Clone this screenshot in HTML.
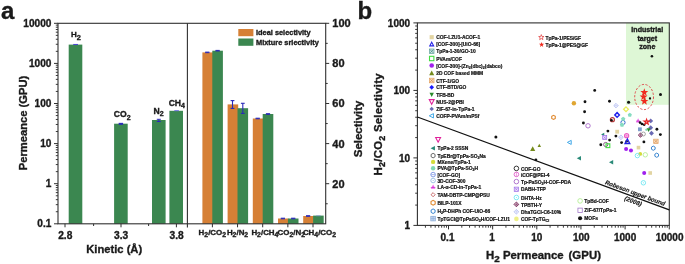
<!DOCTYPE html>
<html><head><meta charset="utf-8"><style>
html,body{margin:0;padding:0;background:#fff;}
body{width:685px;height:264px;overflow:hidden;}
svg{display:block;font-family:"Liberation Sans", sans-serif;will-change:transform;}
</style></head><body>
<svg width="685" height="264" viewBox="0 0 685 264">
<rect width="685" height="264" fill="#fff"/>
<rect x="68.70" y="44.60" width="13.60" height="179.20" fill="#3b8750" />
<rect x="114.10" y="123.70" width="13.60" height="100.10" fill="#3b8750" />
<rect x="152.00" y="120.00" width="13.60" height="103.80" fill="#3b8750" />
<rect x="169.40" y="110.80" width="13.60" height="113.00" fill="#3b8750" />
<rect x="202.40" y="52.40" width="10.60" height="171.40" fill="#d68036" />
<rect x="212.30" y="50.70" width="10.60" height="173.10" fill="#3b8750" />
<rect x="227.60" y="104.40" width="10.60" height="119.40" fill="#d68036" />
<rect x="237.50" y="108.20" width="10.60" height="115.60" fill="#3b8750" />
<rect x="252.80" y="118.50" width="10.60" height="105.30" fill="#d68036" />
<rect x="262.70" y="114.00" width="10.60" height="109.80" fill="#3b8750" />
<rect x="278.00" y="218.50" width="10.60" height="5.30" fill="#d68036" />
<rect x="287.90" y="218.50" width="10.60" height="5.30" fill="#3b8750" />
<rect x="303.20" y="216.00" width="10.60" height="7.80" fill="#d68036" />
<rect x="313.10" y="215.60" width="10.60" height="8.20" fill="#3b8750" />
<line x1="73.20" y1="44.50" x2="78.00" y2="44.50" stroke="#4a4ad0" stroke-width="1.1" />
<line x1="120.90" y1="123.40" x2="120.90" y2="124.30" stroke="#2a2ab8" stroke-width="1.1" />
<line x1="118.70" y1="123.40" x2="123.10" y2="123.40" stroke="#2a2ab8" stroke-width="1.1" />
<line x1="118.70" y1="124.30" x2="123.10" y2="124.30" stroke="#2a2ab8" stroke-width="1.1" />
<line x1="158.80" y1="119.30" x2="158.80" y2="121.50" stroke="#2a2ab8" stroke-width="1.0" />
<line x1="156.80" y1="119.30" x2="160.80" y2="119.30" stroke="#2a2ab8" stroke-width="1.0" />
<line x1="156.80" y1="121.50" x2="160.80" y2="121.50" stroke="#2a2ab8" stroke-width="1.0" />
<line x1="174.30" y1="110.70" x2="178.90" y2="110.70" stroke="#6a6ae0" stroke-width="1.0" />
<line x1="207.30" y1="52.10" x2="207.30" y2="52.70" stroke="#2a2ab8" stroke-width="1.0" />
<line x1="205.20" y1="52.10" x2="209.40" y2="52.10" stroke="#2a2ab8" stroke-width="1.0" />
<line x1="205.20" y1="52.70" x2="209.40" y2="52.70" stroke="#2a2ab8" stroke-width="1.0" />
<line x1="217.60" y1="50.40" x2="217.60" y2="51.00" stroke="#2a2ab8" stroke-width="1.0" />
<line x1="215.50" y1="50.40" x2="219.70" y2="50.40" stroke="#2a2ab8" stroke-width="1.0" />
<line x1="215.50" y1="51.00" x2="219.70" y2="51.00" stroke="#2a2ab8" stroke-width="1.0" />
<line x1="232.50" y1="100.60" x2="232.50" y2="108.40" stroke="#2a2ab8" stroke-width="1.1" />
<line x1="230.60" y1="100.60" x2="234.40" y2="100.60" stroke="#2a2ab8" stroke-width="1.1" />
<line x1="230.60" y1="108.40" x2="234.40" y2="108.40" stroke="#2a2ab8" stroke-width="1.1" />
<line x1="242.80" y1="103.30" x2="242.80" y2="113.40" stroke="#2a2ab8" stroke-width="1.1" />
<line x1="240.90" y1="103.30" x2="244.70" y2="103.30" stroke="#2a2ab8" stroke-width="1.1" />
<line x1="240.90" y1="113.40" x2="244.70" y2="113.40" stroke="#2a2ab8" stroke-width="1.1" />
<line x1="257.70" y1="118.20" x2="257.70" y2="118.80" stroke="#2a2ab8" stroke-width="1.0" />
<line x1="255.60" y1="118.20" x2="259.80" y2="118.20" stroke="#2a2ab8" stroke-width="1.0" />
<line x1="255.60" y1="118.80" x2="259.80" y2="118.80" stroke="#2a2ab8" stroke-width="1.0" />
<line x1="268.00" y1="113.70" x2="268.00" y2="114.30" stroke="#2a2ab8" stroke-width="1.0" />
<line x1="265.90" y1="113.70" x2="270.10" y2="113.70" stroke="#2a2ab8" stroke-width="1.0" />
<line x1="265.90" y1="114.30" x2="270.10" y2="114.30" stroke="#2a2ab8" stroke-width="1.0" />
<line x1="282.90" y1="218.20" x2="282.90" y2="218.80" stroke="#2a2ab8" stroke-width="1.0" />
<line x1="280.80" y1="218.20" x2="285.00" y2="218.20" stroke="#2a2ab8" stroke-width="1.0" />
<line x1="280.80" y1="218.80" x2="285.00" y2="218.80" stroke="#2a2ab8" stroke-width="1.0" />
<line x1="293.20" y1="218.20" x2="293.20" y2="218.80" stroke="#2a2ab8" stroke-width="1.0" />
<line x1="291.10" y1="218.20" x2="295.30" y2="218.20" stroke="#2a2ab8" stroke-width="1.0" />
<line x1="291.10" y1="218.80" x2="295.30" y2="218.80" stroke="#2a2ab8" stroke-width="1.0" />
<line x1="308.10" y1="215.70" x2="308.10" y2="216.30" stroke="#2a2ab8" stroke-width="1.0" />
<line x1="306.00" y1="215.70" x2="310.20" y2="215.70" stroke="#2a2ab8" stroke-width="1.0" />
<line x1="306.00" y1="216.30" x2="310.20" y2="216.30" stroke="#2a2ab8" stroke-width="1.0" />
<line x1="316.10" y1="215.80" x2="320.70" y2="215.80" stroke="#7a8ad0" stroke-width="0.7" />
<rect x="58.0" y="23.3" width="267.7" height="200.5" fill="none" stroke="#303030" stroke-width="1.1"/>
<line x1="187.40" y1="23.30" x2="187.40" y2="227.50" stroke="#303030" stroke-width="1.1" />
<line x1="54.00" y1="223.80" x2="58.00" y2="223.80" stroke="#303030" stroke-width="1.0" />
<line x1="55.80" y1="211.73" x2="58.00" y2="211.73" stroke="#303030" stroke-width="0.95" />
<line x1="55.80" y1="204.67" x2="58.00" y2="204.67" stroke="#303030" stroke-width="0.95" />
<line x1="55.80" y1="199.66" x2="58.00" y2="199.66" stroke="#303030" stroke-width="0.95" />
<line x1="55.80" y1="195.77" x2="58.00" y2="195.77" stroke="#303030" stroke-width="0.95" />
<line x1="55.80" y1="192.60" x2="58.00" y2="192.60" stroke="#303030" stroke-width="0.95" />
<line x1="55.80" y1="189.91" x2="58.00" y2="189.91" stroke="#303030" stroke-width="0.95" />
<line x1="55.80" y1="187.59" x2="58.00" y2="187.59" stroke="#303030" stroke-width="0.95" />
<line x1="55.80" y1="185.53" x2="58.00" y2="185.53" stroke="#303030" stroke-width="0.95" />
<line x1="54.00" y1="183.70" x2="58.00" y2="183.70" stroke="#303030" stroke-width="1.0" />
<line x1="55.80" y1="171.63" x2="58.00" y2="171.63" stroke="#303030" stroke-width="0.95" />
<line x1="55.80" y1="164.57" x2="58.00" y2="164.57" stroke="#303030" stroke-width="0.95" />
<line x1="55.80" y1="159.56" x2="58.00" y2="159.56" stroke="#303030" stroke-width="0.95" />
<line x1="55.80" y1="155.67" x2="58.00" y2="155.67" stroke="#303030" stroke-width="0.95" />
<line x1="55.80" y1="152.50" x2="58.00" y2="152.50" stroke="#303030" stroke-width="0.95" />
<line x1="55.80" y1="149.81" x2="58.00" y2="149.81" stroke="#303030" stroke-width="0.95" />
<line x1="55.80" y1="147.49" x2="58.00" y2="147.49" stroke="#303030" stroke-width="0.95" />
<line x1="55.80" y1="145.43" x2="58.00" y2="145.43" stroke="#303030" stroke-width="0.95" />
<line x1="54.00" y1="143.60" x2="58.00" y2="143.60" stroke="#303030" stroke-width="1.0" />
<line x1="55.80" y1="131.53" x2="58.00" y2="131.53" stroke="#303030" stroke-width="0.95" />
<line x1="55.80" y1="124.47" x2="58.00" y2="124.47" stroke="#303030" stroke-width="0.95" />
<line x1="55.80" y1="119.46" x2="58.00" y2="119.46" stroke="#303030" stroke-width="0.95" />
<line x1="55.80" y1="115.57" x2="58.00" y2="115.57" stroke="#303030" stroke-width="0.95" />
<line x1="55.80" y1="112.40" x2="58.00" y2="112.40" stroke="#303030" stroke-width="0.95" />
<line x1="55.80" y1="109.71" x2="58.00" y2="109.71" stroke="#303030" stroke-width="0.95" />
<line x1="55.80" y1="107.39" x2="58.00" y2="107.39" stroke="#303030" stroke-width="0.95" />
<line x1="55.80" y1="105.33" x2="58.00" y2="105.33" stroke="#303030" stroke-width="0.95" />
<line x1="54.00" y1="103.50" x2="58.00" y2="103.50" stroke="#303030" stroke-width="1.0" />
<line x1="55.80" y1="91.43" x2="58.00" y2="91.43" stroke="#303030" stroke-width="0.95" />
<line x1="55.80" y1="84.37" x2="58.00" y2="84.37" stroke="#303030" stroke-width="0.95" />
<line x1="55.80" y1="79.36" x2="58.00" y2="79.36" stroke="#303030" stroke-width="0.95" />
<line x1="55.80" y1="75.47" x2="58.00" y2="75.47" stroke="#303030" stroke-width="0.95" />
<line x1="55.80" y1="72.30" x2="58.00" y2="72.30" stroke="#303030" stroke-width="0.95" />
<line x1="55.80" y1="69.61" x2="58.00" y2="69.61" stroke="#303030" stroke-width="0.95" />
<line x1="55.80" y1="67.29" x2="58.00" y2="67.29" stroke="#303030" stroke-width="0.95" />
<line x1="55.80" y1="65.23" x2="58.00" y2="65.23" stroke="#303030" stroke-width="0.95" />
<line x1="54.00" y1="63.40" x2="58.00" y2="63.40" stroke="#303030" stroke-width="1.0" />
<line x1="55.80" y1="51.33" x2="58.00" y2="51.33" stroke="#303030" stroke-width="0.95" />
<line x1="55.80" y1="44.27" x2="58.00" y2="44.27" stroke="#303030" stroke-width="0.95" />
<line x1="55.80" y1="39.26" x2="58.00" y2="39.26" stroke="#303030" stroke-width="0.95" />
<line x1="55.80" y1="35.37" x2="58.00" y2="35.37" stroke="#303030" stroke-width="0.95" />
<line x1="55.80" y1="32.20" x2="58.00" y2="32.20" stroke="#303030" stroke-width="0.95" />
<line x1="55.80" y1="29.51" x2="58.00" y2="29.51" stroke="#303030" stroke-width="0.95" />
<line x1="55.80" y1="27.19" x2="58.00" y2="27.19" stroke="#303030" stroke-width="0.95" />
<line x1="55.80" y1="25.13" x2="58.00" y2="25.13" stroke="#303030" stroke-width="0.95" />
<line x1="54.00" y1="23.30" x2="58.00" y2="23.30" stroke="#303030" stroke-width="1.0" />
<text x="51.40" y="227.40" font-size="10.1" font-weight="bold" text-anchor="end" fill="#1a1a1a" stroke="#1a1a1a" stroke-width="0.35">0.1</text>
<text x="51.40" y="187.30" font-size="10.1" font-weight="bold" text-anchor="end" fill="#1a1a1a" stroke="#1a1a1a" stroke-width="0.35">1</text>
<text x="51.40" y="147.20" font-size="10.1" font-weight="bold" text-anchor="end" fill="#1a1a1a" stroke="#1a1a1a" stroke-width="0.35">10</text>
<text x="51.40" y="107.10" font-size="10.1" font-weight="bold" text-anchor="end" fill="#1a1a1a" stroke="#1a1a1a" stroke-width="0.35">100</text>
<text x="51.40" y="67.00" font-size="10.1" font-weight="bold" text-anchor="end" fill="#1a1a1a" stroke="#1a1a1a" stroke-width="0.35">1000</text>
<text x="51.40" y="26.90" font-size="10.1" font-weight="bold" text-anchor="end" fill="#1a1a1a" stroke="#1a1a1a" stroke-width="0.35">10000</text>
<line x1="65.00" y1="223.80" x2="65.00" y2="227.30" stroke="#303030" stroke-width="1.0" />
<line x1="93.60" y1="223.80" x2="93.60" y2="226.00" stroke="#303030" stroke-width="1.0" />
<line x1="121.00" y1="223.80" x2="121.00" y2="227.30" stroke="#303030" stroke-width="1.0" />
<line x1="148.60" y1="223.80" x2="148.60" y2="226.00" stroke="#303030" stroke-width="1.0" />
<line x1="176.40" y1="223.80" x2="176.40" y2="227.30" stroke="#303030" stroke-width="1.0" />
<text x="65.30" y="238.80" font-size="10.2" font-weight="bold" text-anchor="middle" fill="#1a1a1a" stroke="#1a1a1a" stroke-width="0.35">2.8</text>
<text x="121.10" y="238.80" font-size="10.2" font-weight="bold" text-anchor="middle" fill="#1a1a1a" stroke="#1a1a1a" stroke-width="0.35">3.3</text>
<text x="176.60" y="238.80" font-size="10.2" font-weight="bold" text-anchor="middle" fill="#1a1a1a" stroke="#1a1a1a" stroke-width="0.35">3.8</text>
<line x1="212.40" y1="223.80" x2="212.40" y2="227.30" stroke="#303030" stroke-width="1.0" />
<line x1="237.55" y1="223.80" x2="237.55" y2="227.30" stroke="#303030" stroke-width="1.0" />
<line x1="262.70" y1="223.80" x2="262.70" y2="227.30" stroke="#303030" stroke-width="1.0" />
<line x1="287.85" y1="223.80" x2="287.85" y2="227.30" stroke="#303030" stroke-width="1.0" />
<line x1="313.00" y1="223.80" x2="313.00" y2="227.30" stroke="#303030" stroke-width="1.0" />
<line x1="325.70" y1="203.75" x2="327.70" y2="203.75" stroke="#303030" stroke-width="1.0" />
<line x1="325.70" y1="183.70" x2="329.20" y2="183.70" stroke="#303030" stroke-width="1.0" />
<line x1="325.70" y1="163.65" x2="327.70" y2="163.65" stroke="#303030" stroke-width="1.0" />
<line x1="325.70" y1="143.60" x2="329.20" y2="143.60" stroke="#303030" stroke-width="1.0" />
<line x1="325.70" y1="123.55" x2="327.70" y2="123.55" stroke="#303030" stroke-width="1.0" />
<line x1="325.70" y1="103.50" x2="329.20" y2="103.50" stroke="#303030" stroke-width="1.0" />
<line x1="325.70" y1="83.45" x2="327.70" y2="83.45" stroke="#303030" stroke-width="1.0" />
<line x1="325.70" y1="63.40" x2="329.20" y2="63.40" stroke="#303030" stroke-width="1.0" />
<line x1="325.70" y1="43.35" x2="327.70" y2="43.35" stroke="#303030" stroke-width="1.0" />
<line x1="325.70" y1="23.30" x2="329.20" y2="23.30" stroke="#303030" stroke-width="1.0" />
<text x="332.30" y="187.60" font-size="11.0" font-weight="bold" text-anchor="start" fill="#1a1a1a" stroke="#1a1a1a" stroke-width="0.35">20</text>
<text x="332.30" y="147.50" font-size="11.0" font-weight="bold" text-anchor="start" fill="#1a1a1a" stroke="#1a1a1a" stroke-width="0.35">40</text>
<text x="332.30" y="107.40" font-size="11.0" font-weight="bold" text-anchor="start" fill="#1a1a1a" stroke="#1a1a1a" stroke-width="0.35">60</text>
<text x="332.30" y="67.30" font-size="11.0" font-weight="bold" text-anchor="start" fill="#1a1a1a" stroke="#1a1a1a" stroke-width="0.35">80</text>
<text x="332.30" y="27.20" font-size="11.0" font-weight="bold" text-anchor="start" fill="#1a1a1a" stroke="#1a1a1a" stroke-width="0.35">100</text>
<text x="114.20" y="253.30" font-size="11.2" font-weight="bold" text-anchor="middle" fill="#1a1a1a" stroke="#1a1a1a" stroke-width="0.35">Kinetic (&#197;)</text>
<text x="0" y="0" font-size="11.2" font-weight="bold" text-anchor="middle" fill="#1a1a1a" stroke="#1a1a1a" stroke-width="0.35" transform="translate(27.2,123) rotate(-90)">Permeance (GPU)</text>
<text x="0" y="0" font-size="11.45" font-weight="bold" text-anchor="middle" fill="#1a1a1a" stroke="#1a1a1a" stroke-width="0.35" transform="translate(361.6,128.9) rotate(-90)">Selectivity</text>
<text x="75.90" y="37.40" font-size="8.0" font-weight="bold" text-anchor="middle" fill="#1a1a1a" stroke="#1a1a1a" stroke-width="0.35">H<tspan font-size="7.4" dy="2.8">2</tspan></text>
<text x="122.20" y="117.40" font-size="8.6" font-weight="bold" text-anchor="middle" fill="#1a1a1a" stroke="#1a1a1a" stroke-width="0.35">CO<tspan font-size="7.0" dy="2.2">2</tspan></text>
<text x="158.60" y="114.00" font-size="8.6" font-weight="bold" text-anchor="middle" fill="#1a1a1a" stroke="#1a1a1a" stroke-width="0.35">N<tspan font-size="7.0" dy="2.4">2</tspan></text>
<text x="176.80" y="105.80" font-size="8.6" font-weight="bold" text-anchor="middle" fill="#1a1a1a" stroke="#1a1a1a" stroke-width="0.35">CH<tspan font-size="7.0" dy="2.4">4</tspan></text>
<text x="198.60" y="234.90" font-size="7.9" font-weight="bold" text-anchor="start" fill="#1a1a1a" stroke="#1a1a1a" stroke-width="0.35"><tspan>H</tspan><tspan font-size="6.9" dy="2.3">2</tspan><tspan dy="-2.3">/CO</tspan><tspan font-size="6.9" dy="2.3">2</tspan></text>
<text x="226.90" y="234.90" font-size="7.9" font-weight="bold" text-anchor="start" fill="#1a1a1a" stroke="#1a1a1a" stroke-width="0.35"><tspan>H</tspan><tspan font-size="6.9" dy="2.3">2</tspan><tspan dy="-2.3">/N</tspan><tspan font-size="6.9" dy="2.3">2</tspan></text>
<text x="251.40" y="234.90" font-size="7.9" font-weight="bold" text-anchor="start" fill="#1a1a1a" stroke="#1a1a1a" stroke-width="0.35"><tspan>H</tspan><tspan font-size="6.9" dy="2.3">2</tspan><tspan dy="-2.3">/CH</tspan><tspan font-size="6.9" dy="2.3">4</tspan></text>
<text x="277.60" y="234.90" font-size="7.9" font-weight="bold" text-anchor="start" fill="#1a1a1a" stroke="#1a1a1a" stroke-width="0.35"><tspan>CO</tspan><tspan font-size="6.9" dy="2.3">2</tspan><tspan dy="-2.3">/N</tspan><tspan font-size="6.9" dy="2.3">2</tspan></text>
<text x="302.90" y="234.90" font-size="7.9" font-weight="bold" text-anchor="start" fill="#1a1a1a" stroke="#1a1a1a" stroke-width="0.35"><tspan>CH</tspan><tspan font-size="6.9" dy="2.3">4</tspan><tspan dy="-2.3">/CO</tspan><tspan font-size="6.9" dy="2.3">2</tspan></text>
<rect x="238.30" y="29.00" width="15.10" height="7.20" fill="#d68036" />
<rect x="238.30" y="38.50" width="15.10" height="7.30" fill="#3b8750" />
<text x="256.00" y="35.40" font-size="7.4" font-weight="bold" text-anchor="start" fill="#1a1a1a" stroke="#1a1a1a" stroke-width="0.35">Ideal selectivity</text>
<text x="256.00" y="45.00" font-size="7.4" font-weight="bold" text-anchor="start" fill="#1a1a1a" stroke="#1a1a1a" stroke-width="0.35">Mixture srlectivity</text>
<text x="1.00" y="18.70" font-size="24" font-weight="bold" text-anchor="start" fill="#1a1a1a" stroke="#1a1a1a" stroke-width="0.35">a</text>
<text x="357.60" y="18.70" font-size="24" font-weight="bold" text-anchor="start" fill="#1a1a1a" stroke="#1a1a1a" stroke-width="0.35">b</text>
<rect x="626.00" y="22.90" width="43.30" height="81.90" fill="#def7d6" />
<text x="647.30" y="31.70" font-size="7.1" font-weight="bold" text-anchor="middle" fill="#1a1a1a" stroke="#1a1a1a" stroke-width="0.35">Industrial</text>
<text x="647.30" y="40.90" font-size="7.1" font-weight="bold" text-anchor="middle" fill="#1a1a1a" stroke="#1a1a1a" stroke-width="0.35">target</text>
<text x="647.30" y="49.30" font-size="7.1" font-weight="bold" text-anchor="middle" fill="#1a1a1a" stroke="#1a1a1a" stroke-width="0.35">zone</text>
<rect x="417.4" y="22.9" width="251.89999999999998" height="202.5" fill="none" stroke="#303030" stroke-width="1.1"/>
<line x1="413.40" y1="225.40" x2="417.40" y2="225.40" stroke="#303030" stroke-width="1.0" />
<line x1="415.20" y1="205.08" x2="417.40" y2="205.08" stroke="#303030" stroke-width="0.95" />
<line x1="415.20" y1="193.19" x2="417.40" y2="193.19" stroke="#303030" stroke-width="0.95" />
<line x1="415.20" y1="184.76" x2="417.40" y2="184.76" stroke="#303030" stroke-width="0.95" />
<line x1="415.20" y1="178.22" x2="417.40" y2="178.22" stroke="#303030" stroke-width="0.95" />
<line x1="415.20" y1="172.87" x2="417.40" y2="172.87" stroke="#303030" stroke-width="0.95" />
<line x1="415.20" y1="168.36" x2="417.40" y2="168.36" stroke="#303030" stroke-width="0.95" />
<line x1="415.20" y1="164.44" x2="417.40" y2="164.44" stroke="#303030" stroke-width="0.95" />
<line x1="415.20" y1="160.99" x2="417.40" y2="160.99" stroke="#303030" stroke-width="0.95" />
<line x1="413.40" y1="157.90" x2="417.40" y2="157.90" stroke="#303030" stroke-width="1.0" />
<line x1="415.20" y1="137.58" x2="417.40" y2="137.58" stroke="#303030" stroke-width="0.95" />
<line x1="415.20" y1="125.69" x2="417.40" y2="125.69" stroke="#303030" stroke-width="0.95" />
<line x1="415.20" y1="117.26" x2="417.40" y2="117.26" stroke="#303030" stroke-width="0.95" />
<line x1="415.20" y1="110.72" x2="417.40" y2="110.72" stroke="#303030" stroke-width="0.95" />
<line x1="415.20" y1="105.37" x2="417.40" y2="105.37" stroke="#303030" stroke-width="0.95" />
<line x1="415.20" y1="100.86" x2="417.40" y2="100.86" stroke="#303030" stroke-width="0.95" />
<line x1="415.20" y1="96.94" x2="417.40" y2="96.94" stroke="#303030" stroke-width="0.95" />
<line x1="415.20" y1="93.49" x2="417.40" y2="93.49" stroke="#303030" stroke-width="0.95" />
<line x1="413.40" y1="90.40" x2="417.40" y2="90.40" stroke="#303030" stroke-width="1.0" />
<line x1="415.20" y1="70.08" x2="417.40" y2="70.08" stroke="#303030" stroke-width="0.95" />
<line x1="415.20" y1="58.19" x2="417.40" y2="58.19" stroke="#303030" stroke-width="0.95" />
<line x1="415.20" y1="49.76" x2="417.40" y2="49.76" stroke="#303030" stroke-width="0.95" />
<line x1="415.20" y1="43.22" x2="417.40" y2="43.22" stroke="#303030" stroke-width="0.95" />
<line x1="415.20" y1="37.87" x2="417.40" y2="37.87" stroke="#303030" stroke-width="0.95" />
<line x1="415.20" y1="33.36" x2="417.40" y2="33.36" stroke="#303030" stroke-width="0.95" />
<line x1="415.20" y1="29.44" x2="417.40" y2="29.44" stroke="#303030" stroke-width="0.95" />
<line x1="415.20" y1="25.99" x2="417.40" y2="25.99" stroke="#303030" stroke-width="0.95" />
<line x1="413.40" y1="22.90" x2="417.40" y2="22.90" stroke="#303030" stroke-width="1.0" />
<text x="410.10" y="229.40" font-size="10.0" font-weight="bold" text-anchor="end" fill="#1a1a1a" stroke="#1a1a1a" stroke-width="0.35">1</text>
<text x="410.10" y="161.90" font-size="10.0" font-weight="bold" text-anchor="end" fill="#1a1a1a" stroke="#1a1a1a" stroke-width="0.35">10</text>
<text x="410.10" y="94.40" font-size="10.0" font-weight="bold" text-anchor="end" fill="#1a1a1a" stroke="#1a1a1a" stroke-width="0.35">100</text>
<text x="410.10" y="26.90" font-size="10.0" font-weight="bold" text-anchor="end" fill="#1a1a1a" stroke="#1a1a1a" stroke-width="0.35">1000</text>
<line x1="448.50" y1="225.40" x2="448.50" y2="229.40" stroke="#303030" stroke-width="1.0" />
<line x1="492.65" y1="225.40" x2="492.65" y2="229.40" stroke="#303030" stroke-width="1.0" />
<line x1="536.80" y1="225.40" x2="536.80" y2="229.40" stroke="#303030" stroke-width="1.0" />
<line x1="580.95" y1="225.40" x2="580.95" y2="229.40" stroke="#303030" stroke-width="1.0" />
<line x1="625.10" y1="225.40" x2="625.10" y2="229.40" stroke="#303030" stroke-width="1.0" />
<line x1="669.25" y1="225.40" x2="669.25" y2="229.40" stroke="#303030" stroke-width="1.0" />
<line x1="425.41" y1="225.40" x2="425.41" y2="227.70" stroke="#303030" stroke-width="0.95" />
<line x1="430.93" y1="225.40" x2="430.93" y2="227.70" stroke="#303030" stroke-width="0.95" />
<line x1="435.21" y1="225.40" x2="435.21" y2="227.70" stroke="#303030" stroke-width="0.95" />
<line x1="438.71" y1="225.40" x2="438.71" y2="227.70" stroke="#303030" stroke-width="0.95" />
<line x1="441.66" y1="225.40" x2="441.66" y2="227.70" stroke="#303030" stroke-width="0.95" />
<line x1="444.22" y1="225.40" x2="444.22" y2="227.70" stroke="#303030" stroke-width="0.95" />
<line x1="446.48" y1="225.40" x2="446.48" y2="227.70" stroke="#303030" stroke-width="0.95" />
<line x1="461.79" y1="225.40" x2="461.79" y2="227.70" stroke="#303030" stroke-width="0.95" />
<line x1="469.56" y1="225.40" x2="469.56" y2="227.70" stroke="#303030" stroke-width="0.95" />
<line x1="475.08" y1="225.40" x2="475.08" y2="227.70" stroke="#303030" stroke-width="0.95" />
<line x1="479.36" y1="225.40" x2="479.36" y2="227.70" stroke="#303030" stroke-width="0.95" />
<line x1="482.86" y1="225.40" x2="482.86" y2="227.70" stroke="#303030" stroke-width="0.95" />
<line x1="485.81" y1="225.40" x2="485.81" y2="227.70" stroke="#303030" stroke-width="0.95" />
<line x1="488.37" y1="225.40" x2="488.37" y2="227.70" stroke="#303030" stroke-width="0.95" />
<line x1="490.63" y1="225.40" x2="490.63" y2="227.70" stroke="#303030" stroke-width="0.95" />
<line x1="505.94" y1="225.40" x2="505.94" y2="227.70" stroke="#303030" stroke-width="0.95" />
<line x1="513.71" y1="225.40" x2="513.71" y2="227.70" stroke="#303030" stroke-width="0.95" />
<line x1="519.23" y1="225.40" x2="519.23" y2="227.70" stroke="#303030" stroke-width="0.95" />
<line x1="523.51" y1="225.40" x2="523.51" y2="227.70" stroke="#303030" stroke-width="0.95" />
<line x1="527.01" y1="225.40" x2="527.01" y2="227.70" stroke="#303030" stroke-width="0.95" />
<line x1="529.96" y1="225.40" x2="529.96" y2="227.70" stroke="#303030" stroke-width="0.95" />
<line x1="532.52" y1="225.40" x2="532.52" y2="227.70" stroke="#303030" stroke-width="0.95" />
<line x1="534.78" y1="225.40" x2="534.78" y2="227.70" stroke="#303030" stroke-width="0.95" />
<line x1="550.09" y1="225.40" x2="550.09" y2="227.70" stroke="#303030" stroke-width="0.95" />
<line x1="557.86" y1="225.40" x2="557.86" y2="227.70" stroke="#303030" stroke-width="0.95" />
<line x1="563.38" y1="225.40" x2="563.38" y2="227.70" stroke="#303030" stroke-width="0.95" />
<line x1="567.66" y1="225.40" x2="567.66" y2="227.70" stroke="#303030" stroke-width="0.95" />
<line x1="571.16" y1="225.40" x2="571.16" y2="227.70" stroke="#303030" stroke-width="0.95" />
<line x1="574.11" y1="225.40" x2="574.11" y2="227.70" stroke="#303030" stroke-width="0.95" />
<line x1="576.67" y1="225.40" x2="576.67" y2="227.70" stroke="#303030" stroke-width="0.95" />
<line x1="578.93" y1="225.40" x2="578.93" y2="227.70" stroke="#303030" stroke-width="0.95" />
<line x1="594.24" y1="225.40" x2="594.24" y2="227.70" stroke="#303030" stroke-width="0.95" />
<line x1="602.01" y1="225.40" x2="602.01" y2="227.70" stroke="#303030" stroke-width="0.95" />
<line x1="607.53" y1="225.40" x2="607.53" y2="227.70" stroke="#303030" stroke-width="0.95" />
<line x1="611.81" y1="225.40" x2="611.81" y2="227.70" stroke="#303030" stroke-width="0.95" />
<line x1="615.31" y1="225.40" x2="615.31" y2="227.70" stroke="#303030" stroke-width="0.95" />
<line x1="618.26" y1="225.40" x2="618.26" y2="227.70" stroke="#303030" stroke-width="0.95" />
<line x1="620.82" y1="225.40" x2="620.82" y2="227.70" stroke="#303030" stroke-width="0.95" />
<line x1="623.08" y1="225.40" x2="623.08" y2="227.70" stroke="#303030" stroke-width="0.95" />
<line x1="638.39" y1="225.40" x2="638.39" y2="227.70" stroke="#303030" stroke-width="0.95" />
<line x1="646.16" y1="225.40" x2="646.16" y2="227.70" stroke="#303030" stroke-width="0.95" />
<line x1="651.68" y1="225.40" x2="651.68" y2="227.70" stroke="#303030" stroke-width="0.95" />
<line x1="655.96" y1="225.40" x2="655.96" y2="227.70" stroke="#303030" stroke-width="0.95" />
<line x1="659.46" y1="225.40" x2="659.46" y2="227.70" stroke="#303030" stroke-width="0.95" />
<line x1="662.41" y1="225.40" x2="662.41" y2="227.70" stroke="#303030" stroke-width="0.95" />
<line x1="664.97" y1="225.40" x2="664.97" y2="227.70" stroke="#303030" stroke-width="0.95" />
<line x1="667.23" y1="225.40" x2="667.23" y2="227.70" stroke="#303030" stroke-width="0.95" />
<text x="447.50" y="240.60" font-size="10.0" font-weight="bold" text-anchor="middle" fill="#1a1a1a" stroke="#1a1a1a" stroke-width="0.35">0.1</text>
<text x="491.95" y="240.60" font-size="10.0" font-weight="bold" text-anchor="middle" fill="#1a1a1a" stroke="#1a1a1a" stroke-width="0.35">1</text>
<text x="536.70" y="240.60" font-size="10.0" font-weight="bold" text-anchor="middle" fill="#1a1a1a" stroke="#1a1a1a" stroke-width="0.35">10</text>
<text x="581.25" y="240.60" font-size="10.0" font-weight="bold" text-anchor="middle" fill="#1a1a1a" stroke="#1a1a1a" stroke-width="0.35">100</text>
<text x="625.10" y="240.60" font-size="10.0" font-weight="bold" text-anchor="middle" fill="#1a1a1a" stroke="#1a1a1a" stroke-width="0.35">1000</text>
<text x="669.55" y="240.60" font-size="10.0" font-weight="bold" text-anchor="middle" fill="#1a1a1a" stroke="#1a1a1a" stroke-width="0.35">10000</text>
<text x="486.00" y="259.10" font-size="11.4" font-weight="bold" text-anchor="start" fill="#1a1a1a" stroke="#1a1a1a" stroke-width="0.35">H<tspan font-size="9.9" dy="3">2</tspan><tspan dy="-3"> Permeance</tspan><tspan dx="1.5" letter-spacing="0.1"> (GPU)</tspan></text>
<text x="0" y="0" font-size="11.4" font-weight="bold" text-anchor="middle" textLength="102" lengthAdjust="spacing" fill="#1a1a1a" stroke="#1a1a1a" stroke-width="0.35" transform="translate(382.2,124.4) rotate(-90)">H<tspan font-size="9.0" dy="2.6">2</tspan><tspan dy="-2.6">/CO</tspan><tspan font-size="9.0" dy="2.6">2</tspan><tspan dy="-2.6"> Selectivity</tspan></text>
<line x1="417.40" y1="117.00" x2="669.30" y2="209.95" stroke="#111" stroke-width="1.3" />
<text x="0" y="0" font-size="6.2" font-weight="bold" font-style="italic" text-anchor="start" textLength="63.5" lengthAdjust="spacingAndGlyphs" fill="#1a1a1a" stroke="#000" stroke-width="0.15" transform="translate(604.7,184.0) rotate(20.25)">Robeson upper bound</text>
<text x="0" y="0" font-size="6.2" font-weight="bold" font-style="italic" text-anchor="middle" fill="#1a1a1a" stroke="#000" stroke-width="0.15" transform="translate(632.5,203.2) rotate(20.25)">(2008)</text>
<rect x="429.63" y="35.13" width="4.14" height="4.14" fill="#e2d4a2" stroke="none"/>
<text x="436.20" y="39.30" font-size="4.9" font-weight="bold" text-anchor="start" fill="#1a1a1a" stroke="#000" stroke-width="0.2">COF-LZU1-ACOF-1</text>
<polygon points="431.70,42.15 433.65,45.86 429.75,45.86" fill="none" stroke="#2424e6" stroke-width="1.1" stroke-linejoin="miter"/>
<text x="436.20" y="46.40" font-size="4.9" font-weight="bold" text-anchor="start" fill="#1a1a1a" stroke="#000" stroke-width="0.2">[COF-300]-[UiO-66]</text>
<rect x="429.40" y="49.00" width="4.60" height="4.60" fill="#cfe6e2" stroke="#5f9f9a" stroke-width="0.7"/>
<line x1="430.09" y1="49.69" x2="433.31" y2="52.91" stroke="#3f8a85" stroke-width="0.7" />
<line x1="430.09" y1="52.91" x2="433.31" y2="49.69" stroke="#3f8a85" stroke-width="0.7" />
<text x="436.20" y="53.40" font-size="4.9" font-weight="bold" text-anchor="start" fill="#1a1a1a" stroke="#000" stroke-width="0.2">TpPa-1-30/GO-10</text>
<rect x="429.51" y="56.31" width="4.37" height="4.37" fill="none" stroke="#44dd44" stroke-width="1.1"/>
<text x="436.20" y="60.60" font-size="4.9" font-weight="bold" text-anchor="start" fill="#1a1a1a" stroke="#000" stroke-width="0.2">PVAm/COF</text>
<circle cx="431.70" cy="65.50" r="2.30" fill="#a020ee" stroke="none"/>
<text x="436.20" y="67.60" font-size="4.9" font-weight="bold" text-anchor="start" fill="#1a1a1a" stroke="#000" stroke-width="0.2">[COF-300]-(Zn<tspan font-size="3.6" dy="1.1">2</tspan><tspan dy="-1.1">(dbc)</tspan><tspan font-size="3.6" dy="1.1">2</tspan><tspan dy="-1.1">(dabco)</tspan></text>
<polygon points="431.70,70.42 434.23,75.22 429.17,75.22" fill="#748a1c" stroke="none" stroke-linejoin="miter"/>
<text x="436.20" y="75.30" font-size="4.9" font-weight="bold" text-anchor="start" fill="#1a1a1a" stroke="#000" stroke-width="0.2">2D COF based MMM</text>
<rect x="429.40" y="78.20" width="4.60" height="4.60" fill="#f7e0c6" stroke="#e3a060" stroke-width="0.7"/>
<line x1="430.09" y1="78.89" x2="433.31" y2="82.11" stroke="#d88a40" stroke-width="0.7" />
<line x1="430.09" y1="82.11" x2="433.31" y2="78.89" stroke="#d88a40" stroke-width="0.7" />
<text x="436.20" y="82.60" font-size="4.9" font-weight="bold" text-anchor="start" fill="#1a1a1a" stroke="#000" stroke-width="0.2">CTF-1/GO</text>
<polygon points="431.70,84.95 434.05,87.30 431.70,89.65 429.35,87.30" fill="#1a1aff" stroke="none"/>
<text x="436.20" y="89.40" font-size="4.9" font-weight="bold" text-anchor="start" fill="#1a1a1a" stroke="#000" stroke-width="0.2">CTF-BTD/GO</text>
<polygon points="431.70,97.00 433.88,92.85 429.51,92.85" fill="#2a8a2a" stroke="none" stroke-linejoin="miter"/>
<text x="436.20" y="96.70" font-size="4.9" font-weight="bold" text-anchor="start" fill="#1a1a1a" stroke="#000" stroke-width="0.2">TFB-BD</text>
<polygon points="431.70,104.26 434.12,99.67 429.28,99.67" fill="none" stroke="#e0209a" stroke-width="1.1" stroke-linejoin="miter"/>
<text x="436.20" y="103.70" font-size="4.9" font-weight="bold" text-anchor="start" fill="#1a1a1a" stroke="#000" stroke-width="0.2">NUS-2@PBI</text>
<polygon points="431.70,106.69 433.91,108.90 431.70,111.11 429.49,108.90" fill="#6a6ab4" stroke="none"/>
<text x="436.20" y="111.00" font-size="4.9" font-weight="bold" text-anchor="start" fill="#1a1a1a" stroke="#000" stroke-width="0.2">ZIF-67-in-TpPa-1</text>
<polygon points="429.30,115.80 433.45,113.61 433.45,117.98" fill="none" stroke="#40a8e8" stroke-width="1.0" stroke-linejoin="miter"/>
<text x="436.20" y="117.90" font-size="4.9" font-weight="bold" text-anchor="start" fill="#1a1a1a" stroke="#000" stroke-width="0.2">COFP-PVAm/mPSf</text>
<polygon points="430.57,148.30 434.94,146.00 434.94,150.60" fill="#2a8a78" stroke="none" stroke-linejoin="miter"/>
<text x="437.40" y="150.40" font-size="4.9" font-weight="bold" text-anchor="start" fill="#1a1a1a" stroke="#000" stroke-width="0.2">TpPa-2 SSSN</text>
<polygon points="435.09,156.75 433.10,157.90 431.11,156.75 431.11,154.45 433.10,153.30 435.09,154.45" fill="none" stroke="#444444" stroke-width="0.8"/>
<text x="437.40" y="157.70" font-size="4.9" font-weight="bold" text-anchor="start" fill="#1a1a1a" stroke="#000" stroke-width="0.2">TpEBr@TpPa-SO<tspan font-size="3.6" dy="1.1">3</tspan><tspan dy="-1.1">Na</tspan></text>
<circle cx="433.10" cy="161.90" r="2.18" fill="#d4dc3a" stroke="none"/>
<text x="437.40" y="164.00" font-size="4.9" font-weight="bold" text-anchor="start" fill="#1a1a1a" stroke="#000" stroke-width="0.2">MXene/TpPa-1</text>
<circle cx="433.10" cy="168.20" r="2.18" fill="#80d8b4" stroke="none"/>
<text x="437.40" y="170.30" font-size="4.9" font-weight="bold" text-anchor="start" fill="#1a1a1a" stroke="#000" stroke-width="0.2">PVA@TpPa-SO<tspan font-size="3.6" dy="1.1">3</tspan><tspan dy="-1.1">H</tspan></text>
<circle cx="433.10" cy="174.60" r="2.30" fill="none" stroke="#6a88e0" stroke-width="0.8"/>
<line x1="431.26" y1="174.60" x2="434.94" y2="174.60" stroke="#6a88e0" stroke-width="0.6" />
<text x="437.40" y="176.70" font-size="4.9" font-weight="bold" text-anchor="start" fill="#1a1a1a" stroke="#000" stroke-width="0.2">[COF-GO]</text>
<circle cx="433.10" cy="180.50" r="2.30" fill="none" stroke="#88b4e0" stroke-width="0.8"/>
<circle cx="433.10" cy="180.50" r="0.50" fill="#88b4e0" stroke="none"/>
<text x="437.40" y="182.60" font-size="4.9" font-weight="bold" text-anchor="start" fill="#1a1a1a" stroke="#000" stroke-width="0.2">3D-COF-300</text>
<polygon points="433.10,184.47 435.40,188.84 430.80,188.84" fill="#ee66ee" stroke="none" stroke-linejoin="miter"/>
<line x1="430.80" y1="187.46" x2="435.40" y2="187.46" stroke="#c020c0" stroke-width="0.6" />
<text x="437.40" y="189.10" font-size="4.9" font-weight="bold" text-anchor="start" fill="#1a1a1a" stroke="#000" stroke-width="0.2">LA-&#945;-CD-in-TpPa-1</text>
<polygon points="433.10,192.63 435.17,194.70 433.10,196.77 431.03,194.70" fill="none" stroke="#c46060" stroke-width="0.9"/>
<text x="437.40" y="196.80" font-size="4.9" font-weight="bold" text-anchor="start" fill="#1a1a1a" stroke="#000" stroke-width="0.2">TAM-DBTP-CMP@PSU</text>
<polygon points="435.19,203.91 433.10,205.11 431.01,203.91 431.01,201.49 433.10,200.28 435.19,201.49" fill="none" stroke="#e08a30" stroke-width="1.1"/>
<text x="437.40" y="204.80" font-size="4.9" font-weight="bold" text-anchor="start" fill="#1a1a1a" stroke="#000" stroke-width="0.2">BILP-101X</text>
<polygon points="435.09,212.35 433.10,213.50 431.11,212.35 431.11,210.05 433.10,208.90 435.09,210.05" fill="none" stroke="#3a86d0" stroke-width="1.0"/>
<text x="437.40" y="213.30" font-size="4.9" font-weight="bold" text-anchor="start" fill="#1a1a1a" stroke="#000" stroke-width="0.2">H<tspan font-size="3.6" dy="1.1">2</tspan><tspan dy="-1.1">P-DHPh COF-UiO-66</tspan></text>
<rect x="430.80" y="216.30" width="4.60" height="4.60" fill="#c6d6ee" stroke="#88aad8" stroke-width="0.7"/>
<line x1="433.10" y1="216.30" x2="433.10" y2="220.90" stroke="#88aad8" stroke-width="0.6" />
<line x1="430.80" y1="218.60" x2="435.40" y2="218.60" stroke="#88aad8" stroke-width="0.6" />
<text x="437.40" y="220.70" font-size="4.9" font-weight="bold" text-anchor="start" fill="#1a1a1a" stroke="#000" stroke-width="0.2">TpTGCl@TpPaSO<tspan font-size="3.6" dy="1.1">3</tspan><tspan dy="-1.1">H/COF-LZU1</tspan></text>
<circle cx="516.40" cy="168.40" r="2.30" fill="none" stroke="#222222" stroke-width="0.9"/>
<text x="520.90" y="170.50" font-size="4.9" font-weight="bold" text-anchor="start" fill="#1a1a1a" stroke="#000" stroke-width="0.2">COF-GO</text>
<circle cx="516.40" cy="174.40" r="2.30" fill="none" stroke="#e060c8" stroke-width="0.9"/>
<line x1="516.40" y1="172.33" x2="516.40" y2="176.47" stroke="#e060c8" stroke-width="0.6" />
<text x="520.90" y="176.50" font-size="4.9" font-weight="bold" text-anchor="start" fill="#1a1a1a" stroke="#000" stroke-width="0.2">iCOF@PEI-4</text>
<circle cx="516.40" cy="181.60" r="2.30" fill="none" stroke="#a868c8" stroke-width="0.9"/>
<text x="520.90" y="183.70" font-size="4.9" font-weight="bold" text-anchor="start" fill="#1a1a1a" stroke="#000" stroke-width="0.2">Tp-PaSO<tspan font-size="3.6" dy="1.1">3</tspan><tspan dy="-1.1">H-COF-PDA</tspan></text>
<rect x="514.22" y="187.12" width="4.37" height="4.37" fill="#ece2fb" stroke="#9a6ae6" stroke-width="0.7"/>
<line x1="514.88" y1="187.78" x2="517.92" y2="190.82" stroke="#9a6ae6" stroke-width="0.6" />
<line x1="514.88" y1="190.82" x2="517.92" y2="187.78" stroke="#9a6ae6" stroke-width="0.6" />
<text x="520.90" y="191.40" font-size="4.9" font-weight="bold" text-anchor="start" fill="#1a1a1a" stroke="#000" stroke-width="0.2">DABH-TFP</text>
<circle cx="516.40" cy="197.50" r="2.30" fill="none" stroke="#6ee6f2" stroke-width="0.9"/>
<circle cx="516.40" cy="197.50" r="0.50" fill="#6ee6f2" stroke="none"/>
<text x="520.90" y="199.60" font-size="4.9" font-weight="bold" text-anchor="start" fill="#1a1a1a" stroke="#000" stroke-width="0.2">DHTA-Hz</text>
<polygon points="516.40,202.05 518.75,204.40 516.40,206.75 514.05,204.40" fill="none" stroke="#7a2a5a" stroke-width="1.0"/>
<line x1="514.56" y1="204.40" x2="518.24" y2="204.40" stroke="#7a2a5a" stroke-width="0.6" />
<line x1="516.40" y1="202.56" x2="516.40" y2="206.24" stroke="#7a2a5a" stroke-width="0.6" />
<text x="520.90" y="206.50" font-size="4.9" font-weight="bold" text-anchor="start" fill="#1a1a1a" stroke="#000" stroke-width="0.2">TPBTH-Y</text>
<polygon points="516.40,209.45 518.75,211.80 516.40,214.15 514.05,211.80" fill="none" stroke="#b4bcf2" stroke-width="0.8"/>
<line x1="514.33" y1="211.80" x2="518.47" y2="211.80" stroke="#b4bcf2" stroke-width="0.5" />
<line x1="516.40" y1="209.73" x2="516.40" y2="213.87" stroke="#b4bcf2" stroke-width="0.5" />
<text x="520.90" y="213.90" font-size="4.9" font-weight="bold" text-anchor="start" fill="#1a1a1a" stroke="#000" stroke-width="0.2">DhaTGCl-C6-10%</text>
<circle cx="516.40" cy="218.90" r="2.30" fill="#eef088" stroke="none"/>
<text x="520.90" y="221.00" font-size="4.9" font-weight="bold" text-anchor="start" fill="#1a1a1a" stroke="#000" stroke-width="0.2">COF-TpTG<tspan font-size="3.6" dy="1.1">Cl</tspan></text>
<circle cx="580.10" cy="200.90" r="2.30" fill="none" stroke="#b4ee94" stroke-width="0.9"/>
<text x="584.30" y="203.00" font-size="4.9" font-weight="bold" text-anchor="start" fill="#1a1a1a" stroke="#000" stroke-width="0.2">TpBd-COF</text>
<rect x="577.92" y="208.12" width="4.37" height="4.37" fill="none" stroke="#a278c8" stroke-width="0.8"/>
<text x="584.30" y="212.40" font-size="4.9" font-weight="bold" text-anchor="start" fill="#1a1a1a" stroke="#000" stroke-width="0.2">ZIF-67/TpPa-1</text>
<circle cx="580.10" cy="218.30" r="2.07" fill="#111111" stroke="none"/>
<text x="584.30" y="220.40" font-size="4.9" font-weight="bold" text-anchor="start" fill="#1a1a1a" stroke="#000" stroke-width="0.2">MOFs</text>
<polygon points="541.30,34.62 541.97,36.48 543.94,36.54 542.38,37.75 542.93,39.65 541.30,38.54 539.67,39.65 540.22,37.75 538.66,36.54 540.63,36.48" fill="none" stroke="#e03030" stroke-width="0.7" stroke-linejoin="miter"/>
<text x="545.50" y="39.60" font-size="4.9" font-weight="bold" text-anchor="start" fill="#1a1a1a" stroke="#000" stroke-width="0.2">TpPa-1/PES/GF</text>
<polygon points="541.60,41.92 542.27,43.78 544.24,43.84 542.68,45.05 543.23,46.95 541.60,45.84 539.97,46.95 540.52,45.05 538.96,43.84 540.93,43.78" fill="#f02a1e" stroke="none" stroke-linejoin="miter"/>
<text x="545.50" y="46.90" font-size="4.9" font-weight="bold" text-anchor="start" fill="#1a1a1a" stroke="#000" stroke-width="0.2">TpPa-1@PES@GF</text>
<polygon points="438.10,142.19 440.54,137.54 435.66,137.54" fill="none" stroke="#e0209a" stroke-width="1.1" stroke-linejoin="miter"/>
<circle cx="495.90" cy="137.10" r="1.50" fill="#111" stroke="none"/>
<polygon points="532.70,146.18 535.26,151.05 530.14,151.05" fill="#748a1c" stroke="none" stroke-linejoin="miter"/>
<polygon points="539.30,143.68 541.05,147.00 537.55,147.00" fill="#748a1c" stroke="none" stroke-linejoin="miter"/>
<circle cx="535.90" cy="159.80" r="1.35" fill="#111" stroke="none"/>
<polygon points="555.27,118.42 553.50,119.44 551.73,118.42 551.73,116.38 553.50,115.36 555.27,116.38" fill="none" stroke="#e08a30" stroke-width="1.1"/>
<circle cx="573.90" cy="103.30" r="2.20" fill="#e0a632" stroke="none"/>
<circle cx="594.70" cy="90.40" r="1.43" fill="#111" stroke="none"/>
<circle cx="585.00" cy="101.80" r="1.43" fill="#111" stroke="none"/>
<circle cx="609.50" cy="101.20" r="1.43" fill="#111" stroke="none"/>
<circle cx="584.60" cy="111.80" r="1.43" fill="#111" stroke="none"/>
<circle cx="583.40" cy="123.00" r="1.43" fill="#111" stroke="none"/>
<circle cx="588.00" cy="125.80" r="2.22" fill="none" stroke="#a868c8" stroke-width="0.9"/>
<polygon points="567.39,142.40 571.21,140.39 571.21,144.41" fill="none" stroke="#40a8e8" stroke-width="1.0" stroke-linejoin="miter"/>
<polygon points="576.76,158.30 580.98,156.08 580.98,160.52" fill="#2a8a78" stroke="none" stroke-linejoin="miter"/>
<polygon points="608.96,162.30 613.18,160.08 613.18,164.52" fill="#2a8a78" stroke="none" stroke-linejoin="miter"/>
<polygon points="616.00,103.33 618.27,105.60 616.00,107.87 613.73,105.60" fill="none" stroke="#b4bcf2" stroke-width="0.8"/>
<line x1="614.00" y1="105.60" x2="618.00" y2="105.60" stroke="#b4bcf2" stroke-width="0.5" />
<line x1="616.00" y1="103.60" x2="616.00" y2="107.60" stroke="#b4bcf2" stroke-width="0.5" />
<circle cx="628.60" cy="102.20" r="1.57" fill="#111" stroke="none"/>
<polygon points="617.10,112.62 619.38,114.90 617.10,117.18 614.82,114.90" fill="none" stroke="#2020ee" stroke-width="1.45"/>
<polygon points="626.00,106.90 628.40,109.30 626.00,111.70 623.60,109.30" fill="none" stroke="#e8ee5a" stroke-width="1.3"/>
<circle cx="623.00" cy="122.50" r="2.10" fill="none" stroke="#3a6ad0" stroke-width="1.0"/>
<polygon points="629.80,112.72 631.88,114.22 631.08,116.67 628.52,116.67 627.72,114.22" fill="#86dcc0" stroke="none"/>
<circle cx="612.40" cy="119.70" r="2.00" fill="none" stroke="#b83a3a" stroke-width="1.2"/>
<circle cx="611.50" cy="120.20" r="1.3" fill="#111"/>
<polygon points="623.20,116.70 625.39,118.29 624.55,120.86 621.85,120.86 621.01,118.29" fill="#86dcc0" stroke="none"/>
<polygon points="622.00,122.60 624.19,124.19 623.35,126.76 620.65,126.76 619.81,124.19" fill="#86dcc0" stroke="none"/>
<circle cx="607.90" cy="131.10" r="1.43" fill="#111" stroke="none"/>
<rect x="615.30" y="129.80" width="3.80" height="3.80" fill="#e2d4a2" stroke="none"/>
<polygon points="601.04,134.40 604.25,132.71 604.25,136.09" fill="#2a8a78" stroke="none" stroke-linejoin="miter"/>
<rect x="602.69" y="135.59" width="4.02" height="4.02" fill="#ece2fb" stroke="#9a6ae6" stroke-width="0.7"/>
<line x1="603.30" y1="136.20" x2="606.10" y2="139.00" stroke="#9a6ae6" stroke-width="0.6" />
<line x1="603.30" y1="139.00" x2="606.10" y2="136.20" stroke="#9a6ae6" stroke-width="0.6" />
<circle cx="615.90" cy="136.10" r="1.43" fill="#111" stroke="none"/>
<polygon points="620.90,134.93 623.27,137.30 620.90,139.67 618.53,137.30" fill="none" stroke="#b4bcf2" stroke-width="0.8"/>
<line x1="618.81" y1="137.30" x2="622.99" y2="137.30" stroke="#b4bcf2" stroke-width="0.5" />
<line x1="620.90" y1="135.21" x2="620.90" y2="139.39" stroke="#b4bcf2" stroke-width="0.5" />
<circle cx="626.60" cy="135.70" r="2.00" fill="none" stroke="#ee5ec4" stroke-width="1.3"/>
<line x1="625.30" y1="135.70" x2="627.90" y2="135.70" stroke="#ee5ec4" stroke-width="0.6" />
<line x1="626.60" y1="134.40" x2="626.60" y2="137.00" stroke="#ee5ec4" stroke-width="0.6" />
<circle cx="609.60" cy="140.10" r="1.43" fill="#111" stroke="none"/>
<circle cx="626.60" cy="141.20" r="1.21" fill="#111" stroke="none"/>
<polygon points="627.40,138.96 629.80,143.52 625.00,143.52" fill="none" stroke="#2020e0" stroke-width="1.3" stroke-linejoin="miter"/>
<circle cx="621.60" cy="142.60" r="1.43" fill="#111" stroke="none"/>
<circle cx="600.80" cy="144.70" r="1.43" fill="#111" stroke="none"/>
<circle cx="605.70" cy="144.50" r="2.10" fill="none" stroke="#8a5a8a" stroke-width="1.0"/>
<rect x="605.99" y="143.79" width="3.82" height="3.82" fill="none" stroke="#44dd44" stroke-width="1.1"/>
<circle cx="626.10" cy="148.90" r="2.01" fill="#a020ee" stroke="none"/>
<circle cx="631.00" cy="150.60" r="2.01" fill="#a020ee" stroke="none"/>
<polygon points="638.10,118.37 640.22,122.39 635.98,122.39" fill="#ee66ee" stroke="none" stroke-linejoin="miter"/>
<line x1="635.98" y1="121.12" x2="640.22" y2="121.12" stroke="#c020c0" stroke-width="0.6" />
<circle cx="640.10" cy="122.60" r="1.35" fill="#111" stroke="none"/>
<circle cx="642.00" cy="124.00" r="1.35" fill="#111" stroke="none"/>
<circle cx="644.20" cy="124.80" r="1.28" fill="#111" stroke="none"/>
<polygon points="650.70,118.46 653.14,120.90 650.70,123.34 648.26,120.90" fill="#6a6ab4" stroke="none"/>
<polygon points="650.70,125.36 653.14,127.80 650.70,130.24 648.26,127.80" fill="#6a6ab4" stroke="none"/>
<polygon points="651.50,130.76 653.94,133.20 651.50,135.64 649.06,133.20" fill="#6a6ab4" stroke="none"/>
<polygon points="648.60,132.01 650.61,128.19 646.59,128.19" fill="#2a8a2a" stroke="none" stroke-linejoin="miter"/>
<polygon points="646.60,119.36 647.23,121.13 649.11,121.18 647.63,122.33 648.15,124.13 646.60,123.08 645.05,124.13 645.57,122.33 644.09,121.18 645.97,121.13" fill="none" stroke="#e82828" stroke-width="1.25" stroke-linejoin="miter"/>
<rect x="638.00" y="127.40" width="3.80" height="3.80" fill="#7e9ccc" stroke="none"/>
<circle cx="646.30" cy="129.80" r="1.11" fill="#80d8b4" stroke="none"/>
<circle cx="656.90" cy="129.30" r="1.43" fill="#111" stroke="none"/>
<circle cx="660.40" cy="134.60" r="1.43" fill="#111" stroke="none"/>
<polygon points="640.50,132.94 642.66,135.10 640.50,137.26 638.34,135.10" fill="none" stroke="#7a2a5a" stroke-width="1.0"/>
<line x1="638.81" y1="135.10" x2="642.19" y2="135.10" stroke="#7a2a5a" stroke-width="0.6" />
<line x1="640.50" y1="133.41" x2="640.50" y2="136.79" stroke="#7a2a5a" stroke-width="0.6" />
<circle cx="643.40" cy="134.00" r="1.99" fill="none" stroke="#909090" stroke-width="0.8"/>
<circle cx="643.90" cy="141.90" r="1.43" fill="#111" stroke="none"/>
<rect x="653.68" y="139.18" width="4.44" height="4.44" fill="#f7e0c6" stroke="#e3a060" stroke-width="0.7"/>
<line x1="654.34" y1="139.84" x2="657.46" y2="142.96" stroke="#d88a40" stroke-width="0.7" />
<line x1="654.34" y1="142.96" x2="657.46" y2="139.84" stroke="#d88a40" stroke-width="0.7" />
<rect x="636.69" y="145.79" width="3.62" height="3.62" fill="#e2d4a2" stroke="none"/>
<polygon points="655.13,149.26 653.30,150.32 651.47,149.26 651.47,147.14 653.30,146.08 655.13,147.14" fill="none" stroke="#3a86d0" stroke-width="1.0"/>
<circle cx="640.20" cy="153.90" r="1.91" fill="#d4dc3a" stroke="none"/>
<circle cx="637.40" cy="155.60" r="2.22" fill="none" stroke="#6ee6f2" stroke-width="0.9"/>
<circle cx="637.40" cy="155.60" r="0.50" fill="#6ee6f2" stroke="none"/>
<circle cx="645.30" cy="154.80" r="2.22" fill="none" stroke="#b4ee94" stroke-width="0.9"/>
<polygon points="658.53,156.26 656.70,157.32 654.87,156.26 654.87,154.14 656.70,153.08 658.53,154.14" fill="none" stroke="#3a86d0" stroke-width="1.0"/>
<circle cx="644.20" cy="173.00" r="2.01" fill="#a020ee" stroke="none"/>
<rect x="648.39" y="171.19" width="3.62" height="3.62" fill="#e2d4a2" stroke="none"/>
<circle cx="643.40" cy="182.80" r="2.22" fill="none" stroke="#6ee6f2" stroke-width="0.9"/>
<circle cx="643.40" cy="182.80" r="0.50" fill="#6ee6f2" stroke="none"/>
<circle cx="651.90" cy="56.20" r="1.28" fill="#111" stroke="none"/>
<circle cx="660.50" cy="94.60" r="1.50" fill="#111" stroke="none"/>
<ellipse cx="644.1" cy="97.0" rx="9.4" ry="12.6" fill="none" stroke="#e05050" stroke-width="1.0" stroke-dasharray="2.2,1.6"/>
<polygon points="644.30,88.23 645.30,91.02 648.26,91.11 645.92,92.93 646.75,95.77 644.30,94.10 641.85,95.77 642.68,92.93 640.34,91.11 643.30,91.02" fill="#f02a1e" stroke="none" stroke-linejoin="miter"/>
<polygon points="643.60,92.73 644.60,95.52 647.56,95.61 645.22,97.43 646.05,100.27 643.60,98.60 641.15,100.27 641.98,97.43 639.64,95.61 642.60,95.52" fill="#f02a1e" stroke="none" stroke-linejoin="miter"/>
<polygon points="644.40,97.13 645.40,99.92 648.36,100.01 646.02,101.83 646.85,104.67 644.40,103.00 641.95,104.67 642.78,101.83 640.44,100.01 643.40,99.92" fill="#f02a1e" stroke="none" stroke-linejoin="miter"/>
<circle cx="650.0" cy="98.5" r="1.15" fill="#111"/>
</svg>
</body></html>
